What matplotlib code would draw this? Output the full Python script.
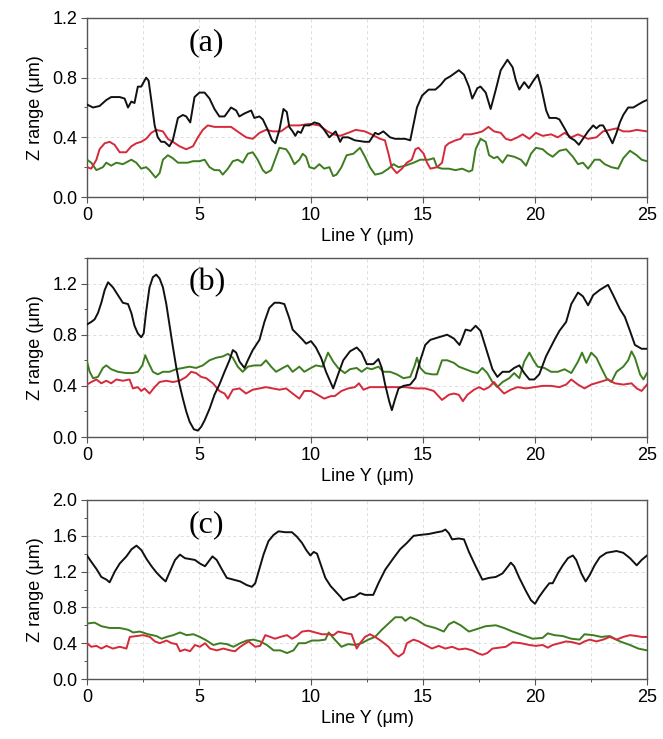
import matplotlib
matplotlib.use("Agg")
import matplotlib.pyplot as plt
from matplotlib.ticker import MultipleLocator, FormatStrFormatter

# ---------------- data ----------------
panel_labels = ["(a)", "(b)", "(c)"]
x_label = "Line Y (\u03bcm)"
y_label = "Z range (\u03bcm)"
x_ticks = [0, 5, 10, 15, 20, 25]
y_lims = [1.2, 1.4, 2.0]

# Panel (a)
a_black_x = [0, 0.27, 0.56, 0.86, 1.08, 1.46, 1.68, 1.83, 1.98, 2.12, 2.27, 2.42, 2.53, 2.64, 2.75, 2.87, 3.02, 3.16, 3.31, 3.46, 3.68, 3.83, 4.06, 4.28, 4.43, 4.61, 4.80, 5.02, 5.25, 5.47, 5.69, 5.91, 6.14, 6.43, 6.66, 6.80, 7.03, 7.33, 7.47, 7.70, 7.85, 8.07, 8.26, 8.41, 8.59, 8.77, 8.92, 9.03, 9.18, 9.30, 9.41, 9.55, 9.70, 9.93, 10.15, 10.37, 10.59, 10.82, 11.10, 11.30, 11.41, 11.66, 11.96, 12.40, 12.60, 12.86, 13.01, 13.23, 13.53, 13.76, 14.20, 14.43, 14.58, 14.73, 14.96, 15.25, 15.55, 15.78, 16.00, 16.23, 16.60, 16.83, 17.05, 17.20, 17.43, 17.57, 17.80, 18.02, 18.25, 18.47, 18.77, 19.00, 19.15, 19.30, 19.52, 19.72, 19.93, 20.12, 20.27, 20.50, 20.64, 20.94, 21.09, 21.32, 21.54, 21.77, 21.96, 22.14, 22.37, 22.60, 22.74, 22.89, 23.04, 23.26, 23.46, 23.64, 23.79, 23.94, 24.16, 24.39, 24.61, 24.84, 25.0]
a_black_y = [0.62, 0.60, 0.61, 0.65, 0.67, 0.67, 0.66, 0.60, 0.64, 0.63, 0.74, 0.74, 0.77, 0.80, 0.78, 0.65, 0.48, 0.40, 0.37, 0.37, 0.34, 0.38, 0.53, 0.55, 0.54, 0.50, 0.67, 0.70, 0.70, 0.66, 0.59, 0.54, 0.54, 0.60, 0.58, 0.54, 0.56, 0.58, 0.53, 0.54, 0.52, 0.45, 0.38, 0.36, 0.45, 0.59, 0.57, 0.47, 0.44, 0.41, 0.44, 0.43, 0.48, 0.48, 0.50, 0.49, 0.45, 0.40, 0.44, 0.37, 0.40, 0.40, 0.38, 0.37, 0.37, 0.43, 0.42, 0.44, 0.40, 0.39, 0.39, 0.38, 0.49, 0.60, 0.68, 0.72, 0.72, 0.75, 0.79, 0.81, 0.85, 0.82, 0.74, 0.66, 0.73, 0.74, 0.70, 0.59, 0.72, 0.85, 0.92, 0.87, 0.78, 0.72, 0.77, 0.73, 0.78, 0.82, 0.74, 0.58, 0.53, 0.53, 0.52, 0.46, 0.40, 0.38, 0.35, 0.39, 0.44, 0.48, 0.46, 0.48, 0.48, 0.42, 0.36, 0.43, 0.50, 0.55, 0.60, 0.60, 0.62, 0.64, 0.65]

a_red_x = [0, 0.19, 0.42, 0.56, 0.79, 1.01, 1.23, 1.46, 1.75, 1.98, 2.20, 2.42, 2.64, 2.87, 3.09, 3.39, 3.61, 3.83, 4.13, 4.43, 4.73, 4.95, 5.17, 5.39, 5.69, 6.06, 6.43, 6.81, 7.10, 7.40, 7.70, 7.99, 8.29, 8.66, 9.03, 9.48, 9.93, 10.37, 10.74, 11.00, 11.30, 11.66, 12.00, 12.40, 12.70, 13.08, 13.30, 13.46, 13.60, 13.83, 14.06, 14.28, 14.50, 14.66, 14.80, 15.03, 15.18, 15.33, 15.63, 15.85, 16.00, 16.15, 16.45, 16.68, 16.83, 17.13, 17.43, 17.65, 17.92, 18.17, 18.47, 18.70, 18.92, 19.22, 19.45, 19.75, 20.04, 20.34, 20.72, 21.02, 21.32, 21.62, 21.92, 22.37, 22.74, 23.04, 23.34, 23.64, 23.94, 24.24, 24.54, 25.0]
a_red_y = [0.20, 0.19, 0.25, 0.32, 0.36, 0.37, 0.35, 0.30, 0.30, 0.34, 0.36, 0.37, 0.39, 0.43, 0.45, 0.44, 0.39, 0.37, 0.34, 0.32, 0.34, 0.40, 0.45, 0.48, 0.47, 0.47, 0.47, 0.43, 0.40, 0.39, 0.43, 0.45, 0.44, 0.44, 0.48, 0.48, 0.49, 0.48, 0.44, 0.42, 0.41, 0.43, 0.45, 0.44, 0.42, 0.39, 0.38, 0.29, 0.20, 0.16, 0.19, 0.23, 0.25, 0.32, 0.33, 0.29, 0.23, 0.19, 0.20, 0.23, 0.34, 0.36, 0.38, 0.39, 0.42, 0.42, 0.43, 0.44, 0.47, 0.44, 0.43, 0.39, 0.38, 0.40, 0.42, 0.39, 0.43, 0.41, 0.42, 0.40, 0.43, 0.40, 0.42, 0.39, 0.40, 0.44, 0.45, 0.46, 0.44, 0.44, 0.45, 0.44]

a_green_x = [0, 0.19, 0.42, 0.71, 0.86, 1.08, 1.31, 1.60, 1.98, 2.20, 2.42, 2.64, 2.79, 3.06, 3.24, 3.39, 3.61, 3.83, 4.06, 4.28, 4.50, 4.73, 5.02, 5.25, 5.47, 5.69, 5.91, 6.06, 6.29, 6.51, 6.73, 6.95, 7.18, 7.40, 7.62, 7.85, 7.99, 8.22, 8.44, 8.59, 8.89, 9.03, 9.26, 9.48, 9.63, 9.78, 9.93, 10.15, 10.37, 10.59, 10.82, 10.99, 11.14, 11.36, 11.59, 11.89, 12.19, 12.41, 12.63, 12.86, 13.16, 13.46, 13.68, 13.91, 14.21, 14.58, 14.88, 15.25, 15.48, 15.63, 15.85, 16.15, 16.45, 16.75, 17.05, 17.20, 17.35, 17.57, 17.80, 17.95, 18.17, 18.32, 18.55, 18.77, 19.07, 19.37, 19.60, 19.82, 20.04, 20.34, 20.57, 20.79, 21.09, 21.39, 21.69, 21.92, 22.14, 22.37, 22.66, 22.89, 23.11, 23.41, 23.71, 23.94, 24.24, 24.54, 24.76, 25.0]
a_green_y = [0.25, 0.23, 0.18, 0.20, 0.23, 0.21, 0.23, 0.22, 0.25, 0.23, 0.19, 0.20, 0.18, 0.13, 0.16, 0.25, 0.28, 0.26, 0.23, 0.23, 0.23, 0.24, 0.24, 0.25, 0.20, 0.18, 0.18, 0.15, 0.19, 0.24, 0.25, 0.23, 0.29, 0.30, 0.25, 0.18, 0.16, 0.18, 0.27, 0.33, 0.32, 0.29, 0.22, 0.25, 0.29, 0.27, 0.20, 0.19, 0.22, 0.19, 0.20, 0.14, 0.15, 0.20, 0.28, 0.29, 0.33, 0.27, 0.20, 0.15, 0.16, 0.19, 0.22, 0.20, 0.21, 0.23, 0.25, 0.25, 0.26, 0.20, 0.19, 0.19, 0.18, 0.19, 0.17, 0.18, 0.32, 0.39, 0.37, 0.28, 0.26, 0.27, 0.23, 0.28, 0.27, 0.25, 0.21, 0.29, 0.33, 0.32, 0.29, 0.27, 0.31, 0.32, 0.27, 0.22, 0.23, 0.19, 0.25, 0.25, 0.22, 0.20, 0.19, 0.26, 0.31, 0.28, 0.25, 0.24]

# Panel (b)
b_black_x = [0, 0.19, 0.34, 0.49, 0.64, 0.79, 0.94, 1.16, 1.38, 1.60, 1.83, 1.98, 2.12, 2.27, 2.42, 2.53, 2.64, 2.79, 2.94, 3.09, 3.24, 3.39, 3.54, 3.68, 3.83, 3.98, 4.13, 4.28, 4.43, 4.58, 4.77, 4.95, 5.10, 5.25, 5.47, 5.69, 5.91, 6.14, 6.36, 6.51, 6.66, 6.81, 7.03, 7.18, 7.40, 7.70, 7.92, 8.14, 8.37, 8.59, 8.81, 9.03, 9.18, 9.41, 9.63, 9.78, 10.00, 10.22, 10.45, 10.67, 10.99, 11.21, 11.44, 11.74, 12.04, 12.26, 12.49, 12.78, 13.01, 13.16, 13.31, 13.49, 13.61, 13.76, 13.91, 14.13, 14.43, 14.66, 14.88, 15.10, 15.33, 15.70, 16.08, 16.38, 16.63, 16.75, 16.90, 17.13, 17.35, 17.57, 17.80, 18.10, 18.32, 18.55, 18.85, 19.07, 19.30, 19.52, 19.75, 19.97, 20.19, 20.49, 20.87, 21.09, 21.39, 21.62, 21.92, 22.14, 22.37, 22.60, 22.89, 23.26, 23.49, 23.79, 24.01, 24.24, 24.46, 24.76, 25.0]
b_black_y = [0.88, 0.90, 0.92, 0.97, 1.05, 1.15, 1.21, 1.17, 1.11, 1.05, 1.04, 0.97, 0.87, 0.81, 0.78, 0.81, 0.98, 1.17, 1.25, 1.27, 1.24, 1.17, 1.04, 0.88, 0.71, 0.55, 0.41, 0.30, 0.20, 0.12, 0.06, 0.05, 0.08, 0.13, 0.22, 0.33, 0.41, 0.51, 0.60, 0.68, 0.66, 0.59, 0.54, 0.60, 0.68, 0.76, 0.90, 1.01, 1.05, 1.05, 1.04, 0.93, 0.84, 0.80, 0.76, 0.73, 0.75, 0.70, 0.62, 0.51, 0.38, 0.49, 0.60, 0.67, 0.70, 0.66, 0.57, 0.57, 0.61, 0.54, 0.41, 0.28, 0.21, 0.30, 0.38, 0.40, 0.41, 0.46, 0.60, 0.72, 0.76, 0.78, 0.80, 0.77, 0.72, 0.77, 0.84, 0.83, 0.87, 0.83, 0.70, 0.53, 0.47, 0.51, 0.51, 0.54, 0.56, 0.50, 0.45, 0.45, 0.49, 0.63, 0.76, 0.83, 0.90, 1.04, 1.13, 1.10, 1.03, 1.11, 1.15, 1.19, 1.11, 1.00, 0.94, 0.83, 0.72, 0.69, 0.69]

b_red_x = [0, 0.19, 0.42, 0.64, 0.86, 1.08, 1.31, 1.60, 1.90, 2.05, 2.27, 2.42, 2.57, 2.79, 3.02, 3.24, 3.54, 3.83, 4.13, 4.43, 4.65, 4.87, 5.10, 5.32, 5.62, 5.91, 6.14, 6.29, 6.51, 6.81, 7.10, 7.40, 7.70, 7.99, 8.29, 8.59, 8.89, 9.18, 9.48, 9.70, 10.00, 10.30, 10.59, 10.89, 11.06, 11.36, 11.66, 11.96, 12.14, 12.34, 12.63, 13.01, 13.38, 13.76, 14.21, 14.66, 15.10, 15.48, 15.85, 16.15, 16.38, 16.60, 16.78, 16.98, 17.28, 17.50, 17.72, 17.95, 18.17, 18.40, 18.62, 18.92, 19.22, 19.60, 19.97, 20.34, 20.72, 21.09, 21.39, 21.62, 21.92, 22.21, 22.51, 22.89, 23.26, 23.56, 23.94, 24.31, 24.54, 24.76, 25.0]
b_red_y = [0.41, 0.43, 0.45, 0.42, 0.44, 0.42, 0.45, 0.44, 0.45, 0.38, 0.39, 0.36, 0.38, 0.34, 0.39, 0.43, 0.44, 0.43, 0.44, 0.47, 0.51, 0.50, 0.47, 0.46, 0.42, 0.36, 0.34, 0.30, 0.37, 0.38, 0.34, 0.37, 0.38, 0.39, 0.38, 0.37, 0.38, 0.34, 0.30, 0.36, 0.36, 0.33, 0.30, 0.32, 0.32, 0.36, 0.38, 0.39, 0.42, 0.37, 0.39, 0.39, 0.39, 0.39, 0.39, 0.38, 0.38, 0.36, 0.29, 0.33, 0.34, 0.33, 0.28, 0.33, 0.37, 0.39, 0.37, 0.39, 0.43, 0.38, 0.34, 0.37, 0.39, 0.38, 0.39, 0.40, 0.40, 0.39, 0.41, 0.45, 0.41, 0.38, 0.41, 0.43, 0.45, 0.42, 0.41, 0.42, 0.38, 0.36, 0.41]

b_green_x = [0, 0.12, 0.27, 0.49, 0.71, 0.86, 1.08, 1.38, 1.75, 2.05, 2.27, 2.47, 2.60, 2.72, 2.94, 3.16, 3.39, 3.68, 3.98, 4.28, 4.58, 4.87, 5.17, 5.47, 5.77, 6.06, 6.29, 6.51, 6.73, 6.95, 7.18, 7.47, 7.77, 7.99, 8.22, 8.44, 8.74, 8.96, 9.18, 9.48, 9.70, 10.00, 10.22, 10.52, 10.76, 10.99, 11.21, 11.51, 11.74, 12.04, 12.26, 12.49, 12.71, 13.01, 13.23, 13.53, 13.83, 14.13, 14.43, 14.63, 14.73, 14.88, 15.10, 15.40, 15.63, 15.85, 16.08, 16.38, 16.60, 16.90, 17.20, 17.43, 17.65, 17.87, 18.10, 18.32, 18.55, 18.85, 19.07, 19.30, 19.52, 19.75, 19.93, 20.12, 20.42, 20.72, 21.02, 21.32, 21.62, 21.92, 22.10, 22.29, 22.51, 22.74, 22.96, 23.19, 23.41, 23.64, 23.94, 24.16, 24.31, 24.46, 24.69, 24.84, 25.0]
b_green_y = [0.59, 0.51, 0.46, 0.47, 0.54, 0.56, 0.53, 0.51, 0.50, 0.50, 0.51, 0.56, 0.64, 0.59, 0.51, 0.49, 0.51, 0.51, 0.53, 0.54, 0.55, 0.54, 0.56, 0.60, 0.62, 0.63, 0.65, 0.62, 0.55, 0.51, 0.55, 0.56, 0.56, 0.60, 0.55, 0.51, 0.54, 0.56, 0.51, 0.55, 0.51, 0.54, 0.56, 0.55, 0.66, 0.59, 0.54, 0.50, 0.53, 0.54, 0.51, 0.54, 0.53, 0.55, 0.51, 0.51, 0.49, 0.46, 0.47, 0.56, 0.62, 0.54, 0.50, 0.49, 0.49, 0.60, 0.60, 0.58, 0.55, 0.53, 0.51, 0.50, 0.54, 0.50, 0.43, 0.39, 0.43, 0.46, 0.50, 0.46, 0.59, 0.66, 0.60, 0.55, 0.54, 0.51, 0.51, 0.53, 0.50, 0.59, 0.66, 0.58, 0.66, 0.62, 0.54, 0.46, 0.43, 0.51, 0.55, 0.60, 0.67, 0.62, 0.49, 0.45, 0.50]

# Panel (c)
c_black_x = [0, 0.19, 0.42, 0.64, 0.87, 1.01, 1.24, 1.46, 1.76, 1.99, 2.21, 2.43, 2.66, 2.88, 3.10, 3.33, 3.51, 3.70, 3.93, 4.15, 4.37, 4.60, 4.82, 5.04, 5.27, 5.42, 5.60, 5.79, 6.01, 6.24, 6.54, 6.84, 7.13, 7.36, 7.51, 7.66, 7.88, 8.10, 8.33, 8.55, 8.85, 9.15, 9.37, 9.60, 9.79, 9.97, 10.12, 10.27, 10.42, 10.64, 10.87, 11.09, 11.31, 11.44, 11.74, 11.96, 12.19, 12.41, 12.78, 13.01, 13.31, 13.68, 13.98, 14.28, 14.58, 14.88, 15.25, 15.63, 15.85, 16.00, 16.15, 16.30, 16.60, 16.83, 17.05, 17.35, 17.65, 17.95, 18.25, 18.55, 18.77, 18.92, 19.07, 19.30, 19.60, 19.82, 20.00, 20.19, 20.42, 20.64, 20.79, 21.02, 21.24, 21.47, 21.69, 21.84, 22.07, 22.26, 22.44, 22.66, 22.89, 23.19, 23.64, 23.94, 24.24, 24.54, 24.76, 25.0]
c_black_y = [1.38, 1.31, 1.23, 1.14, 1.11, 1.08, 1.20, 1.29, 1.37, 1.45, 1.49, 1.44, 1.34, 1.26, 1.19, 1.13, 1.09, 1.20, 1.33, 1.39, 1.35, 1.34, 1.33, 1.29, 1.26, 1.31, 1.37, 1.33, 1.23, 1.13, 1.11, 1.09, 1.05, 1.03, 1.07, 1.20, 1.39, 1.54, 1.61, 1.65, 1.64, 1.64, 1.59, 1.52, 1.44, 1.38, 1.42, 1.40, 1.29, 1.13, 1.04, 0.98, 0.92, 0.88, 0.91, 0.92, 0.96, 0.94, 0.94, 1.07, 1.22, 1.35, 1.45, 1.52, 1.60, 1.61, 1.62, 1.64, 1.65, 1.67, 1.63, 1.56, 1.57, 1.56, 1.42, 1.26, 1.11, 1.13, 1.14, 1.18, 1.25, 1.30, 1.26, 1.13, 0.98, 0.88, 0.84, 0.92, 1.00, 1.07, 1.07, 1.18, 1.27, 1.35, 1.38, 1.33, 1.18, 1.09, 1.16, 1.27, 1.36, 1.41, 1.43, 1.41, 1.35, 1.27, 1.33, 1.38]

c_red_x = [0, 0.19, 0.42, 0.64, 0.87, 1.16, 1.46, 1.76, 1.91, 2.21, 2.51, 2.81, 3.03, 3.25, 3.55, 3.78, 4.00, 4.15, 4.37, 4.60, 4.82, 5.04, 5.27, 5.49, 5.79, 6.09, 6.39, 6.61, 6.84, 7.21, 7.51, 7.73, 7.96, 8.18, 8.40, 8.63, 8.93, 9.15, 9.37, 9.60, 9.90, 10.19, 10.49, 10.79, 11.01, 11.21, 11.59, 11.81, 12.04, 12.19, 12.41, 12.63, 12.86, 13.16, 13.46, 13.68, 13.91, 14.13, 14.28, 14.58, 14.81, 15.10, 15.40, 15.70, 16.00, 16.30, 16.60, 16.90, 17.20, 17.43, 17.65, 17.87, 18.10, 18.40, 18.70, 19.00, 19.37, 19.75, 20.04, 20.34, 20.57, 20.79, 21.09, 21.39, 21.69, 21.99, 22.21, 22.44, 22.74, 23.04, 23.34, 23.64, 23.94, 24.24, 24.54, 24.76, 25.0]
c_red_y = [0.40, 0.36, 0.37, 0.34, 0.37, 0.34, 0.36, 0.34, 0.47, 0.48, 0.49, 0.47, 0.42, 0.40, 0.43, 0.40, 0.39, 0.31, 0.33, 0.31, 0.38, 0.36, 0.40, 0.34, 0.32, 0.34, 0.32, 0.31, 0.36, 0.42, 0.36, 0.37, 0.49, 0.47, 0.45, 0.47, 0.49, 0.45, 0.48, 0.53, 0.54, 0.52, 0.50, 0.50, 0.49, 0.53, 0.51, 0.50, 0.34, 0.40, 0.47, 0.50, 0.47, 0.42, 0.36, 0.29, 0.25, 0.29, 0.40, 0.44, 0.42, 0.38, 0.34, 0.37, 0.34, 0.36, 0.33, 0.34, 0.32, 0.29, 0.27, 0.29, 0.34, 0.35, 0.36, 0.41, 0.40, 0.38, 0.37, 0.38, 0.35, 0.38, 0.40, 0.42, 0.41, 0.39, 0.42, 0.44, 0.42, 0.44, 0.47, 0.44, 0.47, 0.49, 0.48, 0.47, 0.47]

c_green_x = [0, 0.34, 0.64, 1.01, 1.46, 1.84, 2.06, 2.36, 2.73, 3.10, 3.33, 3.55, 3.85, 4.15, 4.45, 4.75, 5.04, 5.34, 5.64, 5.94, 6.24, 6.54, 6.84, 7.13, 7.43, 7.73, 8.03, 8.33, 8.63, 8.93, 9.22, 9.45, 9.75, 10.04, 10.34, 10.64, 10.79, 11.06, 11.36, 11.66, 11.96, 12.26, 12.56, 12.86, 13.16, 13.46, 13.76, 14.06, 14.21, 14.43, 14.73, 15.10, 15.55, 15.93, 16.15, 16.38, 16.68, 17.05, 17.43, 17.80, 18.25, 18.62, 19.00, 19.45, 19.90, 20.34, 20.57, 20.87, 21.24, 21.62, 21.99, 22.21, 22.59, 22.96, 23.34, 23.79, 24.24, 24.61, 25.0]
c_green_y = [0.62, 0.63, 0.59, 0.57, 0.57, 0.55, 0.52, 0.53, 0.50, 0.48, 0.45, 0.47, 0.49, 0.52, 0.49, 0.50, 0.47, 0.43, 0.38, 0.40, 0.39, 0.36, 0.40, 0.43, 0.44, 0.42, 0.38, 0.32, 0.32, 0.29, 0.32, 0.40, 0.40, 0.43, 0.43, 0.44, 0.52, 0.44, 0.36, 0.39, 0.38, 0.40, 0.44, 0.47, 0.55, 0.62, 0.69, 0.69, 0.65, 0.69, 0.66, 0.60, 0.57, 0.53, 0.61, 0.64, 0.60, 0.53, 0.56, 0.59, 0.60, 0.57, 0.53, 0.49, 0.45, 0.46, 0.51, 0.49, 0.48, 0.45, 0.44, 0.50, 0.49, 0.47, 0.48, 0.42, 0.38, 0.34, 0.32]

panels = [
    (a_black_x, a_black_y, a_red_x, a_red_y, a_green_x, a_green_y),
    (b_black_x, b_black_y, b_red_x, b_red_y, b_green_x, b_green_y),
    (c_black_x, c_black_y, c_red_x, c_red_y, c_green_x, c_green_y),
]

# ---------------- style ----------------
W, H = 663, 739
plt.rcParams['font.family'] = ['Liberation Sans', 'DejaVu Sans']
col_black = '#111111'
col_red = '#d42a3a'
col_green = '#3d7d20'
spine_col = '#555555'

fig = plt.figure(figsize=(W / 100, H / 100), dpi=100)

# axes boxes in pixels: (left, top, right, bottom)
boxes = [(87, 18, 647, 197), (87, 258, 647, 437), (87, 500, 647, 679)]

for i, (box, data) in enumerate(zip(boxes, panels)):
    l, t, r, b = box
    ax = fig.add_axes([l / W, 1 - b / H, (r - l) / W, (b - t) / H])
    bx, by, rx, ry, gx, gy = data
    ax.plot(gx, gy, color=col_green, lw=1.4, zorder=3)
    ax.plot(rx, ry, color=col_red, lw=1.4, zorder=3)
    ax.plot(bx, by, color=col_black, lw=1.4, zorder=4)

    ax.set_xlim(0, 25)
    ax.set_ylim(0, y_lims[i])
    ax.set_xticks(x_ticks)
    ax.xaxis.set_minor_locator(MultipleLocator(2.5))
    ax.yaxis.set_major_locator(MultipleLocator(0.4))
    ax.yaxis.set_minor_locator(MultipleLocator(0.2))
    ax.yaxis.set_major_formatter(FormatStrFormatter('%.1f'))

    ax.tick_params(axis='both', which='major', direction='out', length=4,
                   width=0.8, color=spine_col, labelsize=13, pad=3)
    ax.tick_params(axis='both', which='minor', direction='out', length=2.5,
                   width=0.7, color=spine_col)
    for s in ax.spines.values():
        s.set_color(spine_col)
        s.set_linewidth(1.0)

    ax.grid(True, which='both', axis='x', color='#dddddd', ls=(0, (3, 3)), lw=0.7)
    ax.grid(True, which='major', axis='y', color='#dddddd', ls=(0, (3, 3)), lw=0.7)
    ax.set_axisbelow(True)

    ax.set_xlabel(x_label, fontsize=13, labelpad=3)
    ax.set_ylabel(y_label, fontsize=13, labelpad=6)
    ax.text(0.214, 0.86, panel_labels[i], transform=ax.transAxes,
            ha='center', va='center', fontsize=23,
            family=['Liberation Serif', 'DejaVu Serif'], zorder=5)

fig.savefig('out.png', dpi=100)
